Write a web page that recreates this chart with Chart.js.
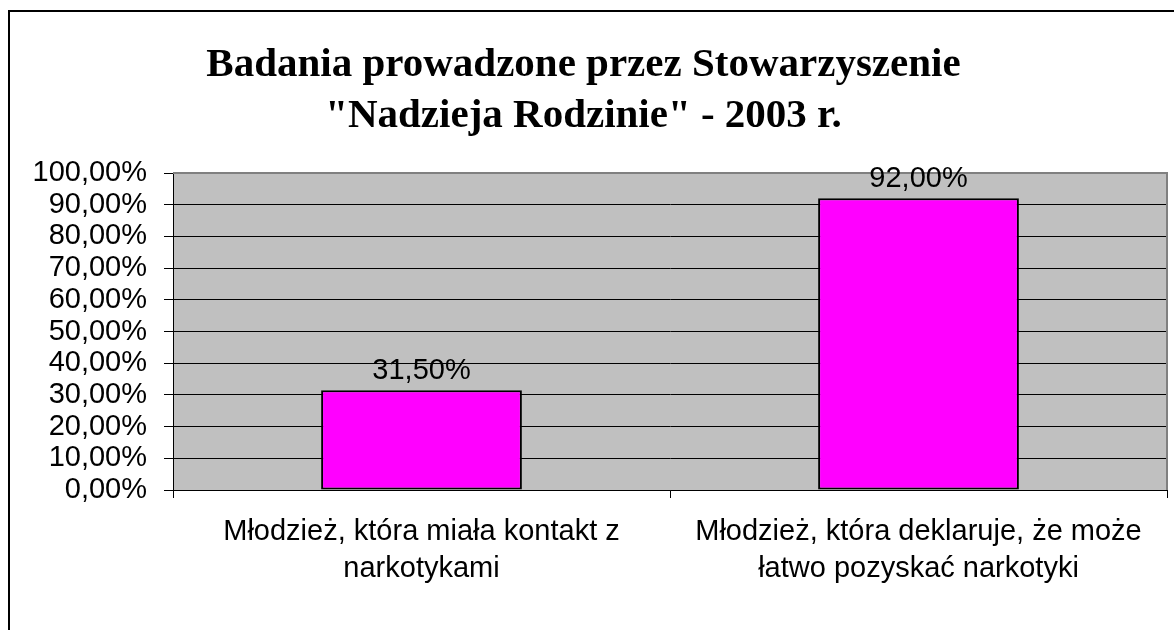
<!DOCTYPE html>
<html>
<head>
<meta charset="utf-8">
<script src="https://cdn.jsdelivr.net/npm/chart.js@4/dist/chart.umd.min.js"></script>
<style>
html,body{margin:0;padding:0;background:#fff;}
canvas{display:block;}
</style>
</head>
<body>
<canvas id="c" width="1174" height="630"></canvas>
<script>
const titleLines = ['Badania prowadzone przez Stowarzyszenie', '"Nadzieja Rodzinie" - 2003 r.'];
const categories = [
  ['Młodzież, która miała kontakt z', 'narkotykami'],
  ['Młodzież, która deklaruje, że może', 'łatwo pozyskać narkotyki']
];
const values = [31.5, 92.0];
const yTicks = [0, 10, 20, 30, 40, 50, 60, 70, 80, 90, 100];

const fmt = v => Number(v).toFixed(2).replace('.', ',') + '%';

const frameAndBg = {
  id: 'frameAndBg',
  beforeDraw(chart) {
    const ctx = chart.ctx, a = chart.chartArea;
    ctx.save();
    ctx.fillStyle = '#fff';
    ctx.fillRect(0, 0, chart.width, chart.height);
    // outer frame
    ctx.strokeStyle = '#000';
    ctx.lineWidth = 2;
    ctx.beginPath();
    ctx.moveTo(9, chart.height + 5);
    ctx.lineTo(9, 11);
    ctx.lineTo(chart.width + 5, 11);
    ctx.stroke();
    // plot background
    ctx.fillStyle = '#C0C0C0';
    ctx.fillRect(a.left, a.top, a.right - a.left, a.bottom - a.top);
    ctx.restore();
  },
  afterDraw(chart) {
    const ctx = chart.ctx, a = chart.chartArea;
    ctx.save();
    ctx.strokeStyle = '#808080';
    ctx.lineWidth = 2;
    ctx.beginPath();
    ctx.moveTo(a.left, a.top);
    ctx.lineTo(a.right, a.top);
    ctx.lineTo(a.right, a.bottom);
    ctx.stroke();
    // data labels
    ctx.fillStyle = '#000';
    ctx.font = '29px "Liberation Sans", Arial, sans-serif';
    ctx.textAlign = 'center';
    ctx.textBaseline = 'alphabetic';
    const meta = chart.getDatasetMeta(0);
    meta.data.forEach((bar, i) => {
      ctx.fillText(fmt(values[i]), bar.x, bar.y - 11);
    });
    ctx.restore();
  }
};

new Chart(document.getElementById('c'), {
  type: 'bar',
  data: {
    labels: categories,
    datasets: [{
      data: values,
      backgroundColor: '#FF00FF',
      borderColor: '#000000',
      borderWidth: 2,
      borderSkipped: false,
      categoryPercentage: 1.0,
      barPercentage: 0.404
    }]
  },
  options: {
    responsive: false,
    animation: false,
    layout: { padding: { left: 0, right: 7, top: 0, bottom: 0 } },
    plugins: {
      legend: { display: false },
      tooltip: { enabled: false },
      title: {
        display: true,
        text: titleLines,
        color: '#000',
        font: { family: '"Liberation Serif", "Times New Roman", serif', size: 41, weight: 'bold', lineHeight: '51px' },
        padding: { top: 40, bottom: 31 }
      }
    },
    scales: {
      x: {
        offset: true,
        grid: { offset: true, drawOnChartArea: false, drawTicks: true, tickLength: 8, color: '#000', lineWidth: 1 },
        border: { display: true, color: '#000', width: 1 },
        ticks: {
          color: '#000',
          padding: 15,
          maxRotation: 0,
          autoSkip: false,
          font: { family: '"Liberation Sans", Arial, sans-serif', size: 29, lineHeight: '37px' }
        },
        afterFit(scale) { scale.height = 140; }
      },
      y: {
        min: 0,
        max: 100,
        afterBuildTicks(scale) { scale.ticks = yTicks.map(v => ({ value: v })); },
        grid: { color: '#000', lineWidth: 1, drawTicks: true, tickLength: 9 },
        border: { display: true, color: '#000', width: 1 },
        ticks: {
          color: '#000',
          padding: 17,
          autoSkip: false,
          callback: v => fmt(v),
          font: { family: '"Liberation Sans", Arial, sans-serif', size: 29 }
        },
        afterFit(scale) { scale.width = 173; }
      }
    }
  },
  plugins: [frameAndBg]
});
</script>
</body>
</html>
